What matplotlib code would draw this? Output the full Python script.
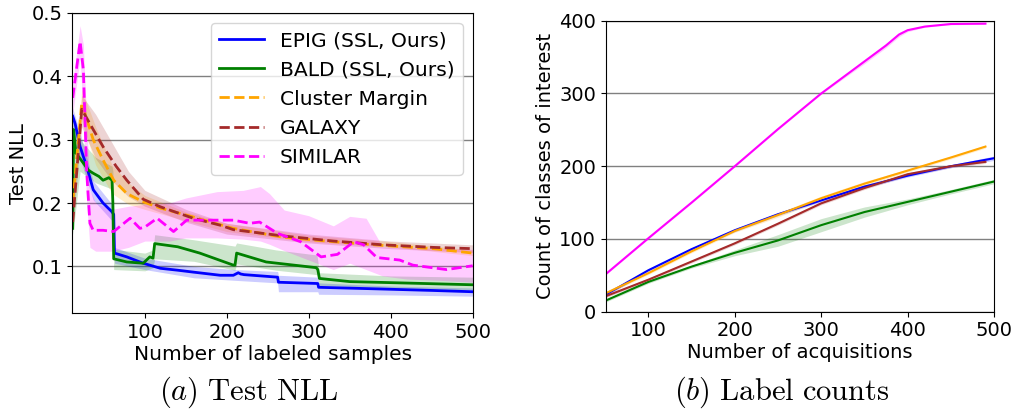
import matplotlib
matplotlib.use("Agg")
import matplotlib.pyplot as plt
import numpy as np

plt.rcParams['font.family'] = ['DejaVu Sans']
plt.rcParams['mathtext.fontset'] = 'cm'

# ---------------- Panel (a): Test NLL ----------------
epig_x = [12, 15, 21, 29, 37, 49, 60, 62, 63, 78, 98, 119, 140, 159, 192, 208, 214, 217, 221, 262, 263, 311, 312, 370, 452, 500]
epig_y = [0.337, 0.325, 0.289, 0.258, 0.221, 0.200, 0.186, 0.182, 0.121, 0.115, 0.105, 0.097, 0.094, 0.091, 0.086, 0.086, 0.090, 0.088, 0.087, 0.083, 0.075, 0.073, 0.067, 0.065, 0.062, 0.060]
epig_bx = [12, 21, 37, 60, 62, 63, 100, 160, 210, 262, 263, 311, 312, 400, 500]
epig_lo = [0.315, 0.270, 0.205, 0.172, 0.168, 0.105, 0.095, 0.082, 0.078, 0.074, 0.060, 0.060, 0.056, 0.055, 0.053]
epig_hi = [0.350, 0.310, 0.235, 0.198, 0.192, 0.130, 0.113, 0.100, 0.095, 0.092, 0.086, 0.083, 0.074, 0.069, 0.066]

bald_x = [12, 13, 16, 21, 25, 31, 37, 44, 49, 56, 60, 61, 62, 78, 98, 106, 110, 112, 140, 167, 208, 210, 212, 248, 309, 311, 313, 350, 411, 500]
bald_y = [0.160, 0.316, 0.279, 0.270, 0.263, 0.252, 0.247, 0.242, 0.236, 0.240, 0.236, 0.200, 0.112, 0.107, 0.105, 0.115, 0.113, 0.136, 0.131, 0.121, 0.102, 0.102, 0.121, 0.107, 0.098, 0.095, 0.081, 0.076, 0.074, 0.071]
bald_bx = [12, 21, 40, 60, 61, 62, 100, 110, 112, 160, 210, 212, 260, 310, 313, 400, 500]
bald_lo = [0.150, 0.250, 0.232, 0.222, 0.200, 0.095, 0.093, 0.098, 0.112, 0.108, 0.094, 0.104, 0.094, 0.087, 0.070, 0.066, 0.063]
bald_hi = [0.330, 0.300, 0.272, 0.258, 0.250, 0.127, 0.121, 0.126, 0.150, 0.142, 0.132, 0.137, 0.126, 0.118, 0.090, 0.085, 0.083]

cm_x = [12, 23, 37, 49, 62, 78, 98, 119, 159, 180, 208, 269, 330, 391, 452, 500]
cm_y = [0.200, 0.358, 0.300, 0.268, 0.236, 0.215, 0.202, 0.192, 0.178, 0.170, 0.160, 0.146, 0.139, 0.133, 0.128, 0.121]
cm_bx = [12, 23, 40, 60, 80, 100, 150, 200, 300, 400, 500]
cm_lo = [0.190, 0.330, 0.260, 0.215, 0.198, 0.190, 0.172, 0.155, 0.139, 0.131, 0.117]
cm_hi = [0.210, 0.380, 0.320, 0.260, 0.232, 0.212, 0.186, 0.168, 0.149, 0.139, 0.126]

gal_x = [12, 23, 37, 49, 65, 78, 98, 119, 159, 192, 208, 269, 330, 391, 452, 500]
gal_y = [0.170, 0.348, 0.316, 0.289, 0.258, 0.236, 0.206, 0.194, 0.176, 0.165, 0.158, 0.148, 0.140, 0.134, 0.130, 0.128]
gal_bx = [12, 23, 40, 60, 80, 100, 150, 200, 300, 400, 500]
gal_lo = [0.160, 0.320, 0.270, 0.235, 0.210, 0.195, 0.170, 0.151, 0.137, 0.128, 0.122]
gal_hi = [0.180, 0.370, 0.340, 0.295, 0.250, 0.220, 0.190, 0.168, 0.151, 0.140, 0.134]

sim_x = [12, 21, 25, 29, 33, 37, 49, 62, 82, 94, 100, 115, 135, 151, 180, 208, 228, 240, 262, 290, 315, 335, 355, 367, 383, 411, 427, 468, 500]
sim_y = [0.366, 0.455, 0.410, 0.250, 0.168, 0.157, 0.157, 0.155, 0.176, 0.160, 0.162, 0.176, 0.155, 0.173, 0.173, 0.173, 0.168, 0.170, 0.152, 0.139, 0.115, 0.119, 0.139, 0.134, 0.114, 0.110, 0.102, 0.095, 0.101]
sim_bx = [12, 21, 25, 29, 33, 40, 60, 80, 100, 130, 150, 188, 220, 241, 252, 270, 300, 330, 350, 370, 390, 420, 460, 500]
sim_lo = [0.340, 0.430, 0.330, 0.200, 0.130, 0.124, 0.124, 0.130, 0.140, 0.140, 0.145, 0.145, 0.143, 0.140, 0.135, 0.125, 0.110, 0.095, 0.105, 0.095, 0.085, 0.080, 0.078, 0.075]
sim_hi = [0.390, 0.480, 0.450, 0.330, 0.220, 0.200, 0.190, 0.195, 0.198, 0.200, 0.208, 0.218, 0.220, 0.226, 0.215, 0.189, 0.180, 0.164, 0.179, 0.176, 0.131, 0.130, 0.128, 0.127]

# ---------------- Panel (b): label counts ----------------
acq_x = [50, 100, 150, 200, 250, 300, 350, 400, 450, 500]
acq_x_short = [50, 100, 150, 200, 250, 300, 350, 400, 450, 490]
epig_c = [23, 57, 86, 112, 134, 153, 172, 187, 200, 211]
epig_c_sd = [2, 2, 2, 2, 2, 2, 2, 2, 2, 3]
bald_c = [15, 41, 62, 81, 98, 119, 137, 151, 165, 179]
bald_c_sd = [2, 2, 2, 4, 8, 9, 7, 4, 3, 3]
cm_c = [25, 53, 83, 111, 133, 156, 176, 194, 212, 227]
cm_c_sd = [2, 2, 2, 2, 3, 3, 3, 2, 2, 2]
gal_c = [21, 44, 69, 94, 121, 149, 170, 189, 200, 206]
gal_c_sd = [2, 2, 2, 2, 2, 2, 2, 2, 2, 2]
sim_cx = [50, 100, 150, 200, 250, 300, 350, 375, 390, 400, 420, 450, 490]
sim_c = [51, 101, 150, 200, 251, 300, 344, 366, 381, 387, 392, 395.5, 396]
sim_c_sd = [1, 1, 1, 1, 1, 1, 3, 3, 3, 2, 1, 1, 1]

labels = ["EPIG (SSL, Ours)", "BALD (SSL, Ours)", "Cluster Margin", "GALAXY", "SIMILAR"]
colors = ["blue", "green", "orange", "brown", "magenta"]

fig = plt.figure(figsize=(10.15, 4.12), dpi=100)
ax1 = fig.add_axes([0.0714, 0.2396, 0.3943, 0.7289])
ax2 = fig.add_axes([0.5968, 0.2434, 0.3826, 0.7063])

# Left panel
bands = [(epig_bx, epig_lo, epig_hi), (bald_bx, bald_lo, bald_hi), (cm_bx, cm_lo, cm_hi),
         (gal_bx, gal_lo, gal_hi), (sim_bx, sim_lo, sim_hi)]
lines = [(epig_x, epig_y, '-'), (bald_x, bald_y, '-'), (cm_x, cm_y, '--'),
         (gal_x, gal_y, '--'), (sim_x, sim_y, '--')]
for (bx, lo, hi), c in zip(bands, colors):
    ax1.fill_between(bx, lo, hi, color=c, alpha=0.2, linewidth=0)
for (x, y, ls), c, lab in zip(lines, colors, labels):
    ax1.plot(x, y, ls, color=c, lw=2, label=lab)

ax1.set_xlim(11.7, 500)
ax1.set_ylim(0.026, 0.5)
ax1.set_xticks([100, 200, 300, 400, 500])
ax1.set_yticks([0.1, 0.2, 0.3, 0.4, 0.5])
ax1.yaxis.grid(True, color='gray', lw=1)
ax1.set_axisbelow(True)
ax1.set_xlabel("Number of labeled samples", fontsize=14.5, labelpad=2)
ax1.set_ylabel("Test NLL", fontsize=14, labelpad=3)
ax1.tick_params(labelsize=14)
ax1.legend(loc='upper right', fontsize=14.6, handlelength=2.2)

# Right panel
rdata = [(acq_x, epig_c, epig_c_sd), (acq_x, bald_c, bald_c_sd), (acq_x_short, cm_c, cm_c_sd),
         (acq_x_short, gal_c, gal_c_sd), (sim_cx, sim_c, sim_c_sd)]
for (x, y, sd), c in zip(rdata, colors):
    y = np.asarray(y, float)
    sd = np.asarray(sd, float)
    ax2.fill_between(x, y - sd, y + sd, color=c, alpha=0.2, linewidth=0)
    ax2.plot(x, y, '-', color=c, lw=1.5)

ax2.set_xlim(50.7, 500)
ax2.set_ylim(0, 400)
ax2.set_xticks([100, 200, 300, 400, 500])
ax2.set_yticks([0, 100, 200, 300, 400])
ax2.yaxis.grid(True, color='gray', lw=1)
ax2.set_axisbelow(True)
ax2.set_xlabel("Number of acquisitions", fontsize=14, labelpad=2)
ax2.set_ylabel("Count of classes of interest", fontsize=14, labelpad=3)
ax2.tick_params(labelsize=14)

fig.text(0.245, 0.047, r"$(a)\ \mathrm{Test\ NLL}$", ha='center', va='center', fontsize=22)
fig.text(0.770, 0.047, r"$(b)\ \mathrm{Label\ counts}$", ha='center', va='center', fontsize=22)

fig.savefig("out.png", dpi=100)
